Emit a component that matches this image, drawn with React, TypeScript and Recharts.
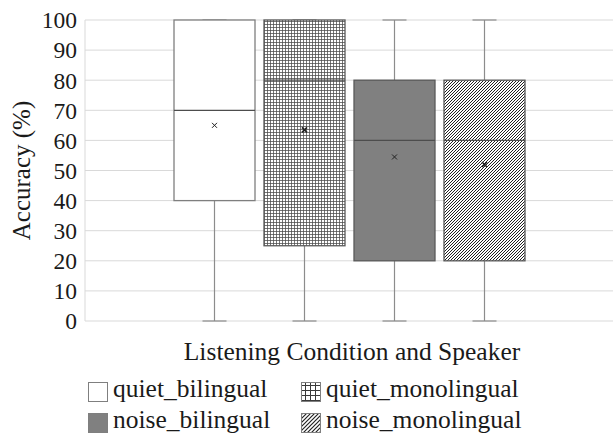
import { BarChart, Bar, XAxis, YAxis, CartesianGrid } from 'recharts';

const seriesNames = ['quiet_bilingual', 'quiet_monolingual', 'noise_bilingual', 'noise_monolingual'];
const mins = [0, 0, 0, 0];
const q1s = [40, 25, 20, 20];
const medians = [70, 80, 60, 60];
const q3s = [100, 100, 80, 80];
const maxs = [100, 100, 100, 100];
const means = [65, 63.5, 54.5, 52];
const yTicks = [0, 10, 20, 30, 40, 50, 60, 70, 80, 90, 100];
const categoryLabel = 'Listening Condition and Speaker';
const yLabel = 'Accuracy (%)';

const fills = ['#ffffff', 'url(#gridPat)', '#808080', 'url(#hatchPat)'];
const strokes = ['#7f7f7f', '#595959', '#595959', '#595959'];
const FONT = 'Liberation Serif, Tinos, DejaVu Serif, serif';

const row: Record<string, any> = { name: categoryLabel };
seriesNames.forEach((s, i) => {
  row[s] = [q1s[i], q3s[i]];
});
const data = [row];

// one box per series: whiskers, box, median line, mean cross
function BoxShape(props: any) {
  const { x, y, width, height, idx } = props;
  const top = Math.min(y, y + height);
  const h = Math.abs(height);
  const ppu = h / (q3s[idx] - q1s[idx]);
  const py = (v: number) => top + h - (v - q1s[idx]) * ppu;
  const cx = x + width / 2;
  const my = py(means[idx]);
  return (
    <g>
      <line x1={cx} x2={cx} y1={py(maxs[idx])} y2={top} stroke="#8c8c8c" strokeWidth={1.2} />
      <line x1={cx} x2={cx} y1={top + h} y2={py(mins[idx])} stroke="#8c8c8c" strokeWidth={1.2} />
      <line x1={cx - 12} x2={cx + 12} y1={py(maxs[idx])} y2={py(maxs[idx])} stroke="#8c8c8c" strokeWidth={1.2} />
      <line x1={cx - 12} x2={cx + 12} y1={py(mins[idx])} y2={py(mins[idx])} stroke="#8c8c8c" strokeWidth={1.2} />
      <rect x={x} y={top} width={width} height={h} fill={fills[idx]} stroke={strokes[idx]} strokeWidth={1.3} />
      <line x1={x} x2={x + width} y1={py(medians[idx])} y2={py(medians[idx])} stroke="#4d4d4d" strokeWidth={1.3} />
      <path
        d={`M${cx - 2.5},${my - 2.5}L${cx + 2.5},${my + 2.5}M${cx - 2.5},${my + 2.5}L${cx + 2.5},${my - 2.5}`}
        stroke="#222"
        strokeWidth={idx === 1 || idx === 3 ? 1.6 : 1}
      />
    </g>
  );
}

const legendPos = [
  { x: 88, y: 382 },
  { x: 301, y: 382 },
  { x: 88, y: 413 },
  { x: 301, y: 413 },
];

export default function App() {
  return (
    <div style={{ position: 'absolute', left: 0, top: 0, width: 613, height: 435, background: '#fff', fontFamily: FONT }}>
      <BarChart
        width={613}
        height={435}
        data={data}
        margin={{ top: 20, right: 0, bottom: 64, left: 0 }}
        barSize={81}
        barGap={9}
        style={{ fontFamily: FONT }}
      >
        <CartesianGrid vertical={false} stroke="#d9d9d9" />
        <XAxis
          dataKey="name"
          height={50}
          tick={false}
          tickLine={false}
          axisLine={false}
          label={{
            content: (p: any) => (
              <text
                x={p.viewBox.x + p.viewBox.width / 2 + 3}
                y={p.viewBox.y + 39}
                textAnchor="middle"
                fill="#1a1a1a"
                style={{ fontFamily: FONT, fontSize: 25.5 }}
              >
                {categoryLabel}
              </text>
            ),
          }}
        />
        <YAxis
          type="number"
          domain={[0, 100]}
          ticks={yTicks}
          interval={0}
          width={85}
          tickLine={false}
          tickSize={0}
          tickMargin={8}
          axisLine={{ stroke: '#d9d9d9' }}
          tick={{ fill: '#1a1a1a', style: { fontFamily: FONT, fontSize: 23.5 } }}
          label={{
            content: (p: any) => (
              <text
                x={30}
                y={p.viewBox.y + p.viewBox.height / 2}
                transform={`rotate(-90 30 ${p.viewBox.y + p.viewBox.height / 2})`}
                textAnchor="middle"
                fill="#1a1a1a"
                style={{ fontFamily: FONT, fontSize: 25 }}
              >
                {yLabel}
              </text>
            ),
          }}
        />
        {seriesNames.map((s, i) => (
          <Bar
            key={s}
            dataKey={s}
            isAnimationActive={false}
            shape={(p: any) => <BoxShape {...p} idx={i} />}
          />
        ))}
      </BarChart>
      <svg width={613} height={435} style={{ position: 'absolute', left: 0, top: 0, pointerEvents: 'none' }}>
        <defs>
          <pattern id="gridPat" width={3} height={3} patternUnits="userSpaceOnUse">
            <rect width={3} height={3} fill="#fff" />
            <path d="M0,0.5H3M0.5,0V3" stroke="#4a4a4a" strokeWidth={0.75} />
          </pattern>
          <pattern id="hatchPat" width={3} height={3} patternUnits="userSpaceOnUse">
            <rect width={3} height={3} fill="#fff" />
            <path d="M-1,1L1,-1M0,3L3,0M2,4L4,2" stroke="#222" strokeWidth={1} />
          </pattern>
          <pattern id="gridPatL" width={5} height={5} patternUnits="userSpaceOnUse">
            <rect width={5} height={5} fill="#fff" />
            <path d="M0,0.5H5M0.5,0V5" stroke="#3a3a3a" strokeWidth={1} />
          </pattern>
          <pattern id="hatchPatL" width={4} height={4} patternUnits="userSpaceOnUse">
            <rect width={4} height={4} fill="#fff" />
            <path d="M-1,1L1,-1M0,4L4,0M3,5L5,3" stroke="#222" strokeWidth={1.2} />
          </pattern>
        </defs>
        {seriesNames.map((s, i) => (
          <g key={s}>
            <rect
              x={legendPos[i].x + 0.5}
              y={legendPos[i].y + 0.5}
              width={19}
              height={19}
              fill={i === 1 ? 'url(#gridPatL)' : i === 3 ? 'url(#hatchPatL)' : fills[i]}
              stroke="#7f7f7f"
              strokeWidth={1}
            />
            <text x={legendPos[i].x + 25} y={legendPos[i].y + 15} fill="#1a1a1a" style={{ fontFamily: FONT, fontSize: 25.5 }}>
              {s}
            </text>
          </g>
        ))}
      </svg>
    </div>
  );
}
